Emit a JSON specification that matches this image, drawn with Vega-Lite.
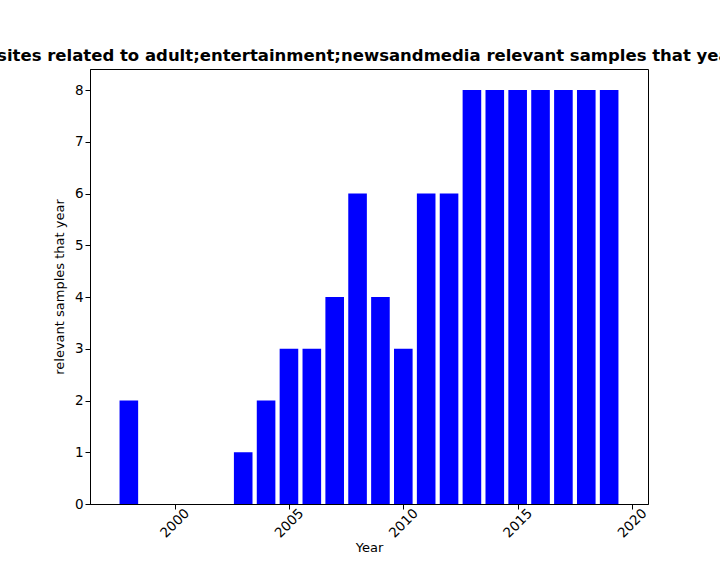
{
  "$schema": "https://vega.github.io/schema/vega-lite/v6.json",
  "width": 558,
  "height": 435,
  "autosize": "none",
  "padding": {"left": 90, "top": 69, "right": 72, "bottom": 72},
  "background": "white",
  "config": {
    "font": "DejaVu Sans",
    "view": {"stroke": "black", "strokeWidth": 1},
    "axis": {"grid": false, "domainColor": "black", "tickColor": "black", "labelColor": "black", "titleColor": "black", "labelFontSize": 13.5, "titleFontSize": 13, "titleFontWeight": "normal", "labelFont": "DejaVu Sans", "titleFont": "DejaVu Sans"}
  },
  "title": {
    "text": "Number of sites related to adult;entertainment;newsandmedia relevant samples that year in per year",
    "fontSize": 16.5,
    "fontWeight": "bold",
    "font": "DejaVu Sans",
    "anchor": "middle",
    "offset": 5,
    "color": "black"
  },
  "data": {
    "values": [
      {"year": 1998, "count": 2},
      {"year": 2003, "count": 1},
      {"year": 2004, "count": 2},
      {"year": 2005, "count": 3},
      {"year": 2006, "count": 3},
      {"year": 2007, "count": 4},
      {"year": 2008, "count": 6},
      {"year": 2009, "count": 4},
      {"year": 2010, "count": 3},
      {"year": 2011, "count": 6},
      {"year": 2012, "count": 6},
      {"year": 2013, "count": 8},
      {"year": 2014, "count": 8},
      {"year": 2015, "count": 8},
      {"year": 2016, "count": 8},
      {"year": 2017, "count": 8},
      {"year": 2018, "count": 8},
      {"year": 2019, "count": 8}
    ]
  },
  "mark": {"type": "bar", "color": "blue", "width": 18.6},
  "encoding": {
    "x": {
      "field": "year",
      "type": "quantitative",
      "title": "Year",
      "scale": {"domain": [1996.52, 2020.48], "nice": false, "zero": false},
      "axis": {"values": [2000, 2005, 2010, 2015, 2020], "format": "d", "labelAngle": -45, "labelAlign": "center", "labelBaseline": "middle", "labelPadding": 14, "titlePadding": 2}
    },
    "y": {
      "field": "count",
      "type": "quantitative",
      "title": "relevant samples that year",
      "scale": {"domain": [0, 8.406], "nice": false},
      "axis": {"values": [0, 1, 2, 3, 4, 5, 6, 7, 8], "titlePadding": 8}
    }
  }
}
